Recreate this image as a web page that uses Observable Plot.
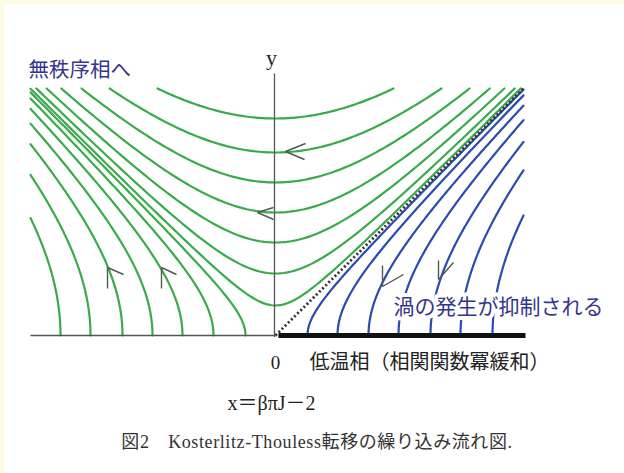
<!DOCTYPE html>
<html>
<head>
<meta charset="utf-8">
<script src="https://cdn.jsdelivr.net/npm/d3@7"></script>
<script src="https://cdn.jsdelivr.net/npm/@observablehq/plot@0.6"></script>
<style>
  html, body { margin: 0; padding: 0; }
  body { width: 624px; height: 473px; background: #fdfbe4; position: relative; overflow: hidden; }
  #paper { position: absolute; left: 4px; top: 4px; width: 620px; height: 469px; background: #ffffff; }
  #chart { position: absolute; left: 0; top: 0; }
  #caption { position: absolute; left: 0; width: 634px; top: 427px; text-align: center;
    font-family: "Liberation Serif", "Noto Sans CJK JP", serif; font-size: 18px; letter-spacing: 0.6px; color: #333; }
</style>
</head>
<body>
<div id="paper"></div>
<div id="chart"></div>
<div id="caption">図2　Kosterlitz-Thouless転移の繰り込み流れ図.</div>
<script>
// y-intercepts of the upper (green) flow lines: y^2 - x^2 = c^2
const upperC = [0.60, 1.24, 1.86, 2.46, 3.06, 3.66, 4.34];
// x-intercepts of the left (green) flow lines: x^2 - y^2 = a^2, x < 0
const leftA = [0.60, 1.24, 1.86, 2.46, 3.06, 3.70, 4.30];
// x-intercepts of the right (blue) flow lines: x^2 - y^2 = b^2, x > 0
const rightB = [0.64, 1.24, 1.86, 2.46, 3.10, 3.70, 4.34];
// plotted window
const xMin = -4.9, xMax = 4.96, yMax = 4.94, yAxisTop = 5.24;
// arrow strokes [x1, y1, x2, y2]
const arrowSegs = [
  [0.20, 3.68, 0.60, 3.84], [0.20, 3.68, 0.58, 3.52],
  [-0.36, 2.46, -0.04, 2.56], [-0.36, 2.46, -0.04, 2.32],
  [-3.36, 1.36, -3.36, 0.94], [-3.36, 1.36, -3.04, 1.22],
  [-2.28, 1.36, -2.28, 0.94], [-2.28, 1.36, -1.98, 1.22],
  [2.14, 0.98, 2.14, 1.40], [2.14, 0.98, 2.56, 1.22],
  [3.26, 1.12, 3.26, 1.50], [3.26, 1.12, 3.56, 1.46]
];

const N = 120;
const green = [], blue = [];
upperC.forEach((c, i) => {
  const xe = Math.sqrt(yMax * yMax - c * c);
  const x0 = Math.max(-xe, xMin), x1 = Math.min(xe, xMax);
  for (let j = 0; j <= N; j++) {
    const x = x0 + (x1 - x0) * j / N;
    green.push({id: "u" + i, x, y: Math.sqrt(x * x + c * c)});
  }
});
leftA.forEach((a, i) => {
  const ye = Math.min(Math.sqrt(xMin * xMin - a * a), yMax);
  for (let j = 0; j <= N; j++) {
    const y = ye * j / N;
    green.push({id: "l" + i, x: -Math.sqrt(y * y + a * a), y});
  }
});
rightB.forEach((b, i) => {
  const ye = Math.min(Math.sqrt(xMax * xMax - b * b), yMax);
  for (let j = 0; j <= N; j++) {
    const y = ye * j / N;
    blue.push({id: "r" + i, x: Math.sqrt(y * y + b * b), y});
  }
});
const arrows = arrowSegs.map(([x1, y1, x2, y2]) => ({x1, y1, x2, y2}));

const serif = "'Liberation Serif', 'Noto Sans CJK JP', serif";
const W = 624, H = 420, ox = 275, oy = 335, s = 50;

const plot = Plot.plot({
  width: W, height: H,
  margin: 0,
  style: {background: "transparent", overflow: "visible"},
  x: {domain: [-ox / s, (W - ox) / s], axis: null},
  y: {domain: [(oy - H) / s, oy / s], axis: null},
  marks: [
    Plot.line(green, {x: "x", y: "y", z: "id", stroke: "#3aab4a", strokeWidth: 2.2, curve: "linear"}),
    Plot.line(blue, {x: "x", y: "y", z: "id", stroke: "#2b4cae", strokeWidth: 2.2, curve: "linear"}),
    Plot.link([{x1: 0, y1: 0, x2: xMax, y2: yMax}], {x1: "x1", y1: "y1", x2: "x2", y2: "y2",
      stroke: "#333", strokeWidth: 2.8, strokeDasharray: "2,2.4"}),
    Plot.link([{x1: xMin, y1: 0, x2: 0, y2: 0}], {x1: "x1", y1: "y1", x2: "x2", y2: "y2", stroke: "#555", strokeWidth: 1.3}),
    Plot.link([{x1: -0.02, y1: -0.03, x2: -0.02, y2: yAxisTop}], {x1: "x1", y1: "y1", x2: "x2", y2: "y2", stroke: "#555", strokeWidth: 1.3}),
    Plot.link([{x1: 0.06, y1: 0, x2: 5.0, y2: 0}], {x1: "x1", y1: "y1", x2: "x2", y2: "y2", stroke: "#111", strokeWidth: 5}),
    Plot.link(arrows, {x1: "x1", y1: "y1", x2: "x2", y2: "y2", stroke: "#555", strokeWidth: 1.4}),
    Plot.text(["y"], {x: -0.08, y: 5.56, text: d => d, fontFamily: serif, fontSize: 22, fill: "#222"}),
    Plot.text(["無秩序相へ"], {x: -4.94, y: 5.3, text: d => d, textAnchor: "start", fontFamily: serif, fontSize: 20.5, fill: "#35358c",
      stroke: "white", strokeWidth: 6}),
    Plot.text(["渦の発生が抑制される"], {x: 2.36, y: 0.56, text: d => d, textAnchor: "start", fontFamily: serif, fontSize: 21, fill: "#35358c",
      stroke: "white", strokeWidth: 8}),
    Plot.text(["0"], {x: 0, y: -0.54, text: d => d, fontFamily: serif, fontSize: 19, fill: "#222"}),
    Plot.text(["低温相（相関関数冪緩和）"], {x: 0.68, y: -0.54, text: d => d, textAnchor: "start", fontFamily: serif, fontSize: 20, fill: "#222"}),
    Plot.text(["x＝βπJ－2"], {x: -0.96, y: -1.36, text: d => d, textAnchor: "start", fontFamily: serif, fontSize: 20, fill: "#222"})
  ]
});
document.getElementById("chart").appendChild(plot);
</script>
</body>
</html>
